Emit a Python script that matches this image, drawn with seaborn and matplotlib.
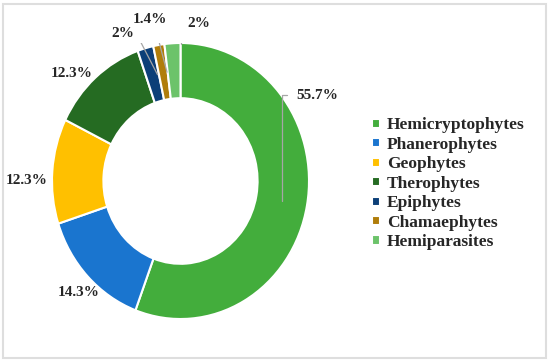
import numpy as np
import matplotlib
matplotlib.use('Agg')
import matplotlib.pyplot as plt
import seaborn as sns
from matplotlib.patches import Rectangle

# life-form spectrum
categories = ['Hemicryptophytes', 'Phanerophytes', 'Geophytes', 'Therophytes',
              'Epiphytes', 'Chamaephytes', 'Hemiparasites']
shares = [55.7, 14.3, 12.3, 12.3, 2, 1.4, 2]
labels = ['55.7%', '14.3%', '12.3%', '12.3%', '2%', '1.4%', '2%']
colors = ['#43ad3c', '#1a75cf', '#ffc000', '#256b22', '#0c3f78', '#b07d0a', '#6cc36a']

sns.set_theme(style='white')
plt.rcParams['font.family'] = ['Liberation Serif', 'DejaVu Serif']
plt.rcParams['font.weight'] = 'bold'

fig = plt.figure(figsize=(5.5, 3.62), dpi=100)
ax = fig.add_axes([52/550, 43/362, 257/550, 276/362])

wedges, _ = ax.pie(shares, colors=sns.color_palette(colors), startangle=90,
                   counterclock=False, radius=1,
                   wedgeprops=dict(width=0.4, edgecolor='white', linewidth=1.5))
ax.set_aspect('auto')
ax.set_xlim(-1, 1)
ax.set_ylim(-1, 1)

# label anchor points (axes data units) and alignment
lab_pos = [(0.905, 0.62, 'left'), (-0.79, -0.81, 'center'), (-1.195, 0.0, 'center'),
           (-0.844, 0.78, 'center'), (-0.45, 1.07, 'center'), (-0.237, 1.17, 'center'),
           (0.05, 1.14, 'left')]
lead_col = '#a6a6a6'
fs = 11
for i, w in enumerate(wedges):
    mid = np.deg2rad((w.theta1 + w.theta2) / 2)
    sx, sy = 0.8 * np.cos(mid), 0.8 * np.sin(mid)
    tx, ty, ha = lab_pos[i]
    if i == 0:
        ax.plot([sx, sx, sx + 0.04], [sy, ty, ty], color=lead_col, lw=0.9)
    elif i == 4:
        ax.plot([sx + 0.04, tx + 0.1, tx + 0.05], [sy, ty + 0.01, ty + 0.01],
                color=lead_col, lw=0.9)
    elif i == 5:
        ax.plot([sx + 0.03, tx + 0.05], [sy, ty - 0.09], color=lead_col, lw=0.9)
    elif i == 6:
        ax.plot([tx - 0.05, tx - 0.05, tx - 0.02], [0.99, ty + 0.02, ty + 0.02],
                color=lead_col, lw=0.9)
    ax.text(tx, ty, labels[i], ha=ha, va='center', fontsize=fs)

fig.legend(wedges, categories, loc='center left', bbox_to_anchor=(0.655, 0.492),
           frameon=False, fontsize=12.5, handlelength=0.45, handleheight=0.45,
           handletextpad=0.4, labelspacing=0.2, borderpad=0.2)

fig.patches.append(Rectangle((3/550, 4/362), 543/550, 354/362, transform=fig.transFigure,
                             fill=False, edgecolor='#dedede', linewidth=1.5))

fig.savefig('out.png', dpi=100)
